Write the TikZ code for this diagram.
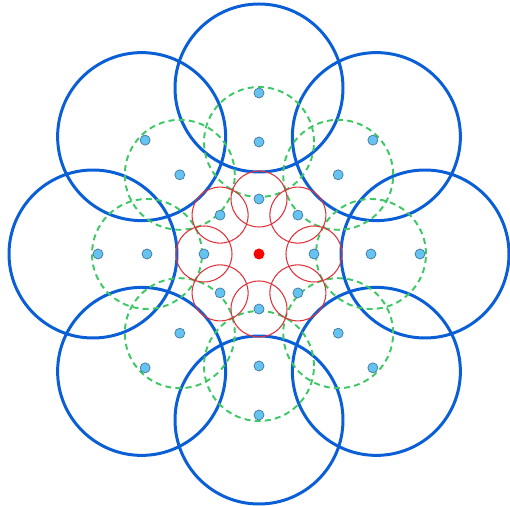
\documentclass[tikz,border=0pt]{standalone}
\definecolor{ringblue}{RGB}{10,95,215}
\definecolor{ringgreen}{RGB}{60,200,100}
\definecolor{ringred}{RGB}{225,50,60}
\definecolor{dotfill}{RGB}{100,195,240}
\definecolor{dotedge}{RGB}{70,120,160}
\tikzset{
  bigring/.style={draw=ringblue, line width=1.7pt},
  midring/.style={draw=ringgreen, line width=1.1pt, dash pattern=on 3.4pt off 2.4pt},
  smallring/.style={draw=ringred, line width=0.6pt},
  site/.style={fill=dotfill, draw=dotedge, line width=0.4pt},
}
\begin{document}
\begin{tikzpicture}[x=0.02cm, y=0.02cm]
    \useasboundingbox (-259,-252) rectangle (251,254);
    \coordinate (c) at (0,0);
    \foreach \i in {0,...,7} {
        \coordinate (in\i) at (\i*45:55);
        \coordinate (mid\i) at (\i*45:112);
        \coordinate (out\i) at (\i*45:161);
        \coordinate (big\i) at (\i*45:166);
    }
    % outer ring
    \foreach \i in {0,...,7}
        \draw[bigring] (big\i) circle[radius=84];
    % middle ring
    \foreach \i in {0,...,7}
        \draw[midring] (mid\i) circle[radius=55];
    % inner ring
    \foreach \i in {0,...,7}
        \draw[smallring] (in\i) circle[radius=28];
    % sites
    \foreach \i in {0,...,7} {
        \filldraw[site] (in\i) circle[radius=5];
        \filldraw[site] (mid\i) circle[radius=5];
        \filldraw[site] (out\i) circle[radius=5];
    }
    \fill[red] (c) circle[radius=5.5];
\end{tikzpicture}
\end{document}
